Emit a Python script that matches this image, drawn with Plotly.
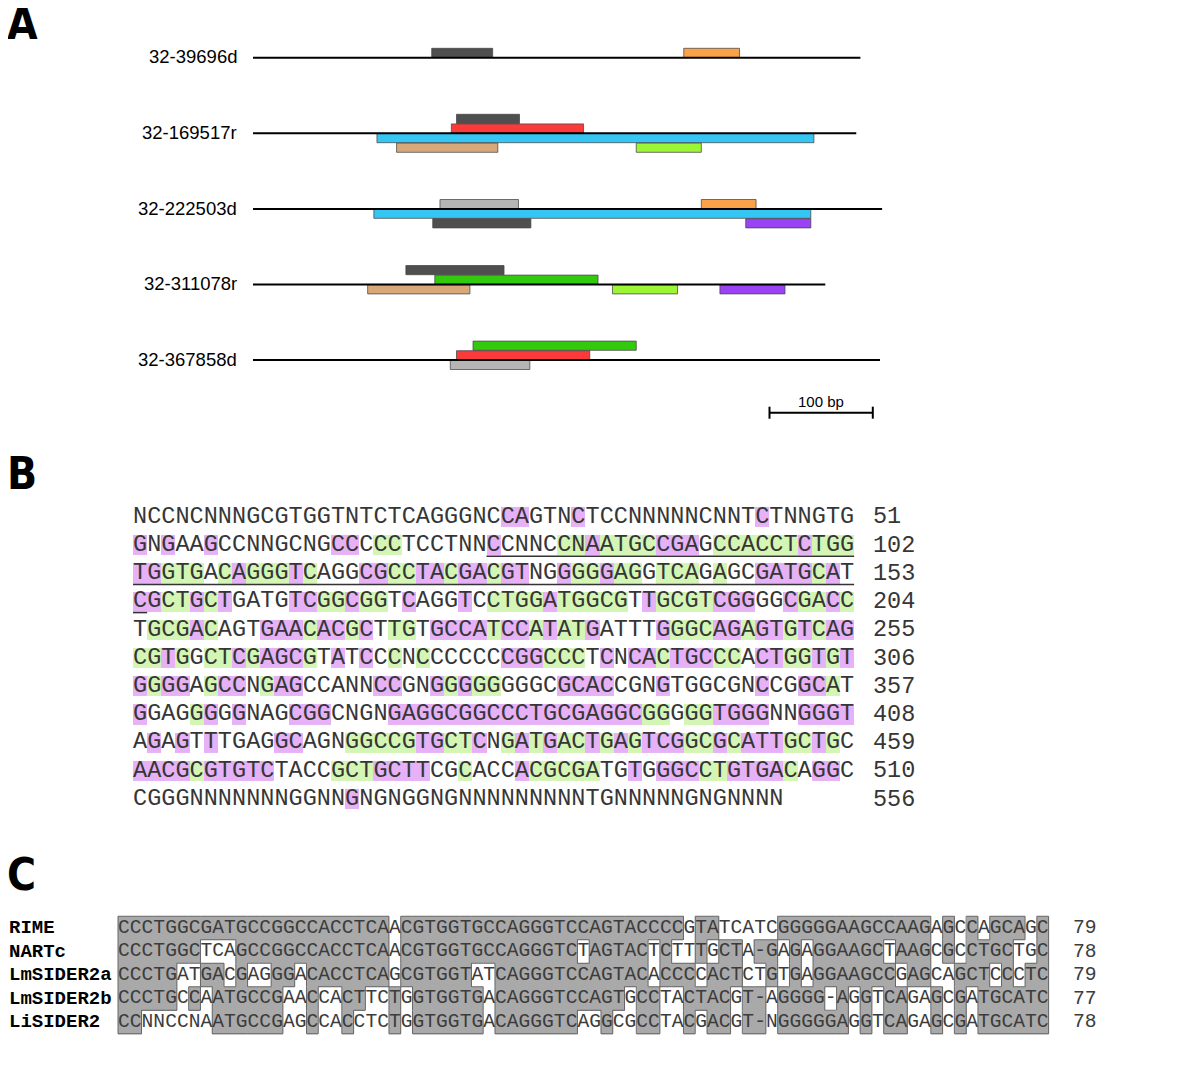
import plotly.graph_objects as go

# ======================= DATA =======================
# ---- Panel A: features on five contigs (bp) ----
track_names = ["32-39696d", "32-169517r", "32-222503d", "32-311078r", "32-367858d"]
track_lengths_bp = [588, 584, 609, 554, 607]
feat_track = [0, 0, 1, 1, 1, 1, 1, 2, 2, 2, 2, 2, 3, 3, 3, 3, 3, 4, 4, 4]
feat_start = [173, 417, 197, 192, 120, 139, 371, 181, 434, 117, 174, 477, 148, 176, 111, 348, 452, 213, 197, 191]
feat_end = [232, 471, 258, 320, 543, 237, 434, 257, 487, 540, 269, 540, 243, 334, 210, 411, 515, 371, 326, 268]
feat_lane = [1, 1, 2, 1, -1, -2, -2, 1, 1, -1, -2, -2, 2, 1, -1, -1, -1, 2, 1, -1]
feat_kind = ["dgray", "orange", "dgray", "red", "blue", "tan", "lgreen",
             "lgray", "orange", "blue", "dgray", "purple",
             "dgray", "green", "tan", "lgreen", "purple",
             "green", "red", "lgray"]
scale_bar_bp = [500, 600]
scale_bar_label = "100 bp"

# ---- Panel B: sequence with highlighted positions (p = purple, g = green) ----
seq_rows = [
    "NCCNCNNNGCGTGGTNTCTCAGGGNCCAGTNCTCCNNNNNCNNTCTNNGTG",
    "GNGAAGCCNNGCNGCCCCCTCCTNNCCNNCCNAATGCCGAGCCACCTCTGG",
    "TGGTGACAGGGTCAGGCGCCTACGACGTNGGGGGAGGTCAGAGCGATGCAT",
    "CGCTGCTGATGTCGGCGGTCAGGTCCTGGATGGCGTTGCGTCGGGGCGACC",
    "TGCGACAGTGAACACGCTTGTGCCATCCATATGATTTGGGCAGAGTGTCAG",
    "CGTGGCTCGAGCGTATCCCNCCCCCCCGGCCCTCNCACTGCCCACTGGTGT",
    "GGGGAGCCNGAGCCANNCCGNGGGGGGGGCGCACCGNGTGGCGNCCGGCAT",
    "GGAGGGGGNAGCGGCNGNGAGGCGGCCCTGCGAGGCGGGGGTGGGNNGGGT",
    "AGAGTTTGAGGCAGNGGCCGTGCTCNGATGACTGAGTCGGCGCATTGCTGC",
    "AACGCGTGTCTACCGCTGCTTCGCACCACGCGATGTGGGCCTGTGACAGGC",
    "CGGGNNNNNNNGGNNGNGNGGNGNNNNNNNNNTGNNNNNGNGNNNN",
]
hl_rows = [
    "..........................pp...p............p......",
    "p.p..p........pp.gg......p....ggpggggppp.ggggggpggg",
    "ppggg.gpgggpg...ppggppgppgpp..pggpgg.ggg.g..ppppgp",
    "ppggpgp....ppggpgg.p...p.ggggpggggg.pggggppp..pggpg",
    ".gggpg...pppgppgp.gg.ppppgppgpggp....pgggppgppgpgpp",
    "ggpg.ggpgpppg.p.p.g.g.....pppggg.p.ppgpppgg.ppggpgp",
    "pgpp.gpp.gpp.....pp..pgpgg....pppp...p......p..ppg.",
    "p...gp.p...ppp....ppppppppppppppppppgg.ggpppp..pppp",
    ".p.p.p....pp...gggggppggp.gpgpggpgpgpppggpgpppggpg.",
    "ppppgppppp....gggpppp..g...pggggg..p.pppggppppg.pp.",
    "...............p",
]
seq_row_ends = [51, 102, 153, 204, 255, 306, 357, 408, 459, 510, 556]
underline_from = (1, 25)   # (row, column) of first underlined base
underline_to = (3, 0)      # (row, column) of last underlined base

# ---- Panel C: alignment and shading (# = shaded, . = unshaded) ----
aln_names = ["RIME", "NARTc", "LmSIDER2a", "LmSIDER2b", "LiSIDER2"]
aln_seqs = [
    "CCCTGGCGATGCCGGCCACCTCAACGTGGTGCCAGGGTCCAGTACCCCGTATCATCGGGGGAAGCCAAGAGCCAGCAGC",
    "CCCTGGCTCAGCCGGCCACCTCAACGTGGTGCCAGGGTCTAGTACTCTTTGCTA-GAGAGGAAGCTAAGCGCCTGCTGC",
    "CCCTGATGACGAGGGACACCTCAGCGTGGTATCAGGGTCCAGTACACCCCACTCTGTGAGGAAGCCGAGCAGCTCCCTC",
    "CCCTGCCAATGCCGAACCACTTCTGGTGGTGACAGGGTCCAGTGCCTACTACGT-AGGGG-AGGTCAGAGCGATGCATC",
    "CCNNCCNAATGCCGAGCCACCTCTGGTGGTGACAGGGTCAGGCGCCTACGACGT-NGGGGGAGGTCAGAGCGATGCATC",
]
aln_shade = [
    "##########" "##########" "###.######" "##########" "########.#" "#.....####" "#########." "#.#.###.#",
    "#######..." "##########" "###.######" "#########." "#####.#..#" ".##.##.#.#" "#####.###." "#.####..#",
    "#####..##." "#..##.####" "###.######" "..########" "#####.###." "###..#.#.#" "######.##." ".###.#.##",
    "#####.#.##" "####..#..#" "#..#.#####" "#.########" "###.##..##" "##.##.####" ".#.#.##..#" ".#.######",
    "##......##" "####..#..#" "...#.#####" "#.#######." ".#..##..#." "##.##.####" "##.#.##..#" ".#.######",
]
aln_lengths = [79, 78, 79, 77, 78]

# ======================= STYLE / LAYOUT =======================
W, H = 1200, 1074
OFF = 8.0  # page margin of the html body: reference pixel = figure pixel + OFF

def py(px):
    return 1 - (px - OFF) / H

def xrange_for(x0, step, centred):
    a = (OFF - x0) / step
    b = (W + OFF - x0) / step
    return [a - 0.5, b - 0.5] if centred else [a, b]

FEAT_COLORS = {"dgray": "#4f4f4f", "lgray": "#b5b5b5", "orange": "#f9a24a", "red": "#fb3a3a",
               "blue": "#36c6f4", "tan": "#d8a879", "lgreen": "#9cf634", "green": "#33c90c",
               "purple": "#9a42f4"}
PURPLE_HL = "#e6b1f6"
GREEN_HL = "#d4f6b4"
SHADE = "#a9a9a9"
MONO = "Liberation Mono, Courier New, monospace"

# geometry in reference pixels
A_X0, A_BP = 253.0, 1.033
A_ROW0, A_ROW = 57.7, 75.6
LANE_STEP, BOX_H = 9.6, 9.2
B_X0, B_CH = 133.0, 14.14
B_ROW0, B_ROW = 517.0, 28.2
C_X0, C_CH = 118.0, 11.78
C_ROW0, C_ROW = 928.0, 23.5
A_TOP, A_BOT = 8, 445
B_TOP, B_BOT = 450, 845
C_TOP, C_BOT = 880, H + OFF

fig = go.Figure()

# ---------------- Panel A ----------------
lx, ly = [], []
for i, L in enumerate(track_lengths_bp):
    lx += [0, L, None]
    ly += [i, i, None]
fig.add_trace(go.Scatter(x=lx, y=ly, mode="lines", line=dict(color="black", width=2),
                         hoverinfo="skip", showlegend=False, xaxis="x", yaxis="y"))

def lane_center(track, lane):
    sgn = -1 if lane > 0 else 1
    return track + sgn * (abs(lane) - 0.5) * LANE_STEP / A_ROW

fig.add_trace(go.Bar(
    orientation="h",
    base=feat_start,
    x=[e - s for s, e in zip(feat_start, feat_end)],
    y=[lane_center(t, l) for t, l in zip(feat_track, feat_lane)],
    width=BOX_H / A_ROW,
    marker=dict(color=[FEAT_COLORS[k] for k in feat_kind],
                line=dict(color="rgba(70,70,70,0.75)", width=1)),
    hoverinfo="skip", showlegend=False, xaxis="x", yaxis="y"))

sb_y = (412.7 - A_ROW0) / A_ROW
tick = 6 / A_ROW
fig.add_trace(go.Scatter(
    x=[scale_bar_bp[0], scale_bar_bp[1], None, scale_bar_bp[0], scale_bar_bp[0], None, scale_bar_bp[1], scale_bar_bp[1]],
    y=[sb_y, sb_y, None, sb_y - tick, sb_y + tick, None, sb_y - tick, sb_y + tick],
    mode="lines", line=dict(color="black", width=2), hoverinfo="skip", showlegend=False,
    xaxis="x", yaxis="y"))

annotations = []
for i, name in enumerate(track_names):
    annotations.append(dict(x=-13.5, y=i - 0.01, xref="x", yref="y", text=name, showarrow=False,
                            xanchor="right", yanchor="middle",
                            font=dict(family="Liberation Sans, Arial, sans-serif", size=18.5, color="black")))
annotations.append(dict(x=sum(scale_bar_bp) / 2, y=(401.5 - A_ROW0) / A_ROW, xref="x", yref="y",
                        text=scale_bar_label, showarrow=False, xanchor="center", yanchor="middle",
                        font=dict(family="Liberation Sans, Arial, sans-serif", size=15, color="black")))

# ---------------- Panel B ----------------
ncol = max(len(r) for r in seq_rows)
z = []
for r, h in enumerate(hl_rows):
    h = (h + "." * ncol)[:len(seq_rows[r])]
    z.append([1 if (c < len(h) and h[c] == "p") else (2 if (c < len(h) and h[c] == "g") else None)
              for c in range(ncol)])
fig.add_trace(go.Heatmap(
    z=z, x=list(range(ncol)), y=list(range(len(seq_rows))),
    colorscale=[[0, PURPLE_HL], [0.5, PURPLE_HL], [0.5, GREEN_HL], [1, GREEN_HL]],
    zmin=1, zmax=2, showscale=False, xgap=0, ygap=8, hoverinfo="skip",
    xaxis="x2", yaxis="y2"))

tx, ty, tt = [], [], []
for r, s in enumerate(seq_rows):
    for c, ch in enumerate(s):
        tx.append(c); ty.append(r); tt.append(ch)
fig.add_trace(go.Scatter(x=tx, y=ty, text=tt, mode="text", textposition="middle center",
                         textfont=dict(family=MONO, size=23.5, color="#363636"),
                         hoverinfo="skip", showlegend=False, xaxis="x2", yaxis="y2"))

ux, uy = [], []
r0, c0 = underline_from
r1, c1 = underline_to
for r in range(r0, r1 + 1):
    a = c0 if r == r0 else 0
    b = c1 if r == r1 else len(seq_rows[r]) - 1
    ux += [a - 0.5, b + 0.5, None]
    uy += [r + 0.39, r + 0.39, None]
fig.add_trace(go.Scatter(x=ux, y=uy, mode="lines", line=dict(color="#333333", width=1.5),
                         hoverinfo="skip", showlegend=False, xaxis="x2", yaxis="y2"))

for r, n in enumerate(seq_row_ends):
    annotations.append(dict(x=(871 - B_X0) / B_CH - 0.5, y=r, xref="x2", yref="y2", text=str(n),
                            showarrow=False, xanchor="left", yanchor="middle",
                            font=dict(family=MONO, size=23.5, color="#363636")))

# ---------------- Panel C ----------------
naln = len(aln_seqs)
alen = max(len(s) for s in aln_seqs)
shade = [[(c < len(m) and m[c] == "#") for c in range(alen)] for m in aln_shade]

zc = [[1 if shade[r][c] else None for c in range(alen)] for r in range(naln)]
fig.add_trace(go.Heatmap(z=zc, x=list(range(alen)), y=list(range(naln)),
                         colorscale=[[0, SHADE], [1, SHADE]], zmin=0, zmax=1, showscale=False,
                         hoverinfo="skip", xaxis="x3", yaxis="y3"))

ox, oy = [], []
def sh(r, c):
    return 0 <= r < naln and 0 <= c < alen and shade[r][c]
for r in range(naln):
    for c in range(alen):
        if not shade[r][c]:
            continue
        if not sh(r - 1, c):
            ox += [c - 0.5, c + 0.5, None]; oy += [r - 0.5, r - 0.5, None]
        if not sh(r + 1, c):
            ox += [c - 0.5, c + 0.5, None]; oy += [r + 0.5, r + 0.5, None]
        if not sh(r, c - 1):
            ox += [c - 0.5, c - 0.5, None]; oy += [r - 0.5, r + 0.5, None]
        if not sh(r, c + 1):
            ox += [c + 0.5, c + 0.5, None]; oy += [r - 0.5, r + 0.5, None]
fig.add_trace(go.Scatter(x=ox, y=oy, mode="lines", line=dict(color="#666666", width=1),
                         hoverinfo="skip", showlegend=False, xaxis="x3", yaxis="y3"))

cx, cy, ct = [], [], []
for r, s in enumerate(aln_seqs):
    for c, ch in enumerate(s):
        cx.append(c); cy.append(r); ct.append(ch)
fig.add_trace(go.Scatter(x=cx, y=cy, text=ct, mode="text", textposition="middle center",
                         textfont=dict(family=MONO, size=19.6, color="#3c3c3c"),
                         hoverinfo="skip", showlegend=False, xaxis="x3", yaxis="y3"))

for r, (name, n) in enumerate(zip(aln_names, aln_lengths)):
    annotations.append(dict(x=-1 / W, y=py(C_ROW0 + r * C_ROW), xref="paper", yref="paper",
                            text="<b>%s</b>" % name, showarrow=False, xanchor="left", yanchor="middle",
                            font=dict(family=MONO, size=19, color="black")))
    annotations.append(dict(x=(1071 - C_X0) / C_CH - 0.5, y=r, xref="x3", yref="y3", text=str(n),
                            showarrow=False, xanchor="left", yanchor="middle",
                            font=dict(family=MONO, size=19.6, color="#3c3c3c")))

for letter, ypx in [("A", 24), ("B", 474), ("C", 874)]:
    annotations.append(dict(x=-3 / W, y=py(ypx), xref="paper", yref="paper", text="<b>%s</b>" % letter,
                            showarrow=False, xanchor="left", yanchor="middle",
                            font=dict(family="Liberation Sans Narrow, DejaVu Sans Condensed, Arial Narrow, sans-serif",
                                      size=44, color="black")))

hidden = dict(visible=False, showgrid=False, zeroline=False, fixedrange=True)
fig.update_layout(
    width=W, height=H, margin=dict(l=0, r=0, t=0, b=0),
    paper_bgcolor="white", plot_bgcolor="white", barmode="overlay", showlegend=False,
    xaxis=dict(domain=[0, 1], range=xrange_for(A_X0, A_BP, False), **hidden),
    yaxis=dict(domain=[py(A_BOT), py(A_TOP)], range=[(A_BOT - A_ROW0) / A_ROW, (A_TOP - A_ROW0) / A_ROW], **hidden),
    xaxis2=dict(domain=[0, 1], range=xrange_for(B_X0, B_CH, True), **hidden),
    yaxis2=dict(domain=[py(B_BOT), py(B_TOP)], range=[(B_BOT - B_ROW0) / B_ROW, (B_TOP - B_ROW0) / B_ROW], **hidden),
    xaxis3=dict(domain=[0, 1], range=xrange_for(C_X0, C_CH, True), **hidden),
    yaxis3=dict(domain=[py(C_BOT), py(C_TOP)], range=[(C_BOT - C_ROW0) / C_ROW, (C_TOP - C_ROW0) / C_ROW], **hidden),
    annotations=annotations,
)

fig.write_html("out.html")
